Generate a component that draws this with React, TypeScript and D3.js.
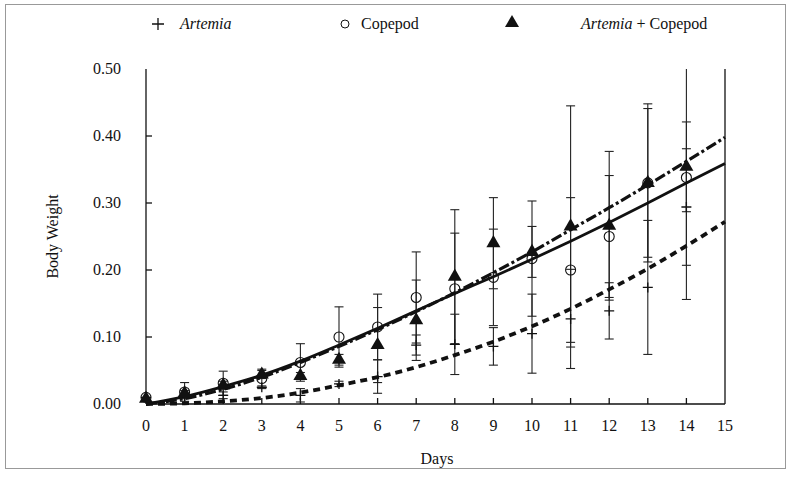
import React from 'react';
import * as d3 from 'd3';

// sampling days and the three diets (mean, sd)
const days = [0, 1, 2, 3, 4, 5, 6, 7, 8, 9, 10, 11, 12, 13, 14];

const artemiaMean = [0.010, 0.012, 0.013, 0.025, 0.013, 0.030, 0.041, 0.088, 0.089, 0.086, 0.105, 0.127, 0.139, 0.174, 0.294];
const artemiaSd = [0, 0.004, 0.005, 0.002, 0.010, 0.004, 0.025, 0.015, 0.045, 0.028, 0.059, 0.074, 0.042, 0.100, 0.087];

const copepodMean = [0.010, 0.018, 0.031, 0.038, 0.062, 0.100, 0.115, 0.159, 0.172, 0.189, 0.217, 0.200, 0.250, 0.330, 0.338];
const copepodSd = [0, 0.014, 0.018, 0.014, 0.028, 0.045, 0.049, 0.068, 0.083, 0.072, 0.086, 0.108, 0.091, 0.118, 0.182];

const mixMean = [0.008, 0.016, 0.028, 0.044, 0.042, 0.066, 0.088, 0.125, 0.190, 0.240, 0.227, 0.265, 0.266, 0.330, 0.354];
const mixSd = [0, 0.004, 0.006, 0.006, 0.005, 0.008, 0.056, 0.060, 0.100, 0.068, 0.038, 0.180, 0.111, 0.111, 0.067];

// fitted growth curves, read at each whole day 0..15
const fitDays = [0, 1, 2, 3, 4, 5, 6, 7, 8, 9, 10, 11, 12, 13, 14, 15];
const artemiaFit = [0, 0.001, 0.004, 0.009, 0.017, 0.028, 0.040, 0.055, 0.073, 0.093, 0.116, 0.142, 0.171, 0.202, 0.236, 0.272];
const copepodFit = [0, 0.011, 0.026, 0.043, 0.064, 0.088, 0.113, 0.139, 0.165, 0.190, 0.216, 0.243, 0.271, 0.300, 0.330, 0.359];
const mixFit = [0, 0.008, 0.022, 0.040, 0.062, 0.086, 0.111, 0.138, 0.166, 0.196, 0.227, 0.260, 0.293, 0.327, 0.362, 0.398];

const xTicks = d3.range(0, 16);
const yTicks = [0, 0.1, 0.2, 0.3, 0.4, 0.5];

const W = 789;
const H = 477;
const m = { left: 146, right: 725, top: 69, bottom: 404 };
const font = '"Liberation Serif", "DejaVu Serif", serif';

const x = d3.scaleLinear().domain([0, 15]).range([m.left, m.right]);
const y = d3.scaleLinear().domain([0, 0.5]).range([m.bottom, m.top]);

const ErrorBars = ({ mean, sd }: { mean: number[]; sd: number[] }) => (
  <g stroke="#222" strokeWidth={1.1}>
    {days.map((d, i) => {
      if (!sd[i]) return null;
      const lo = Math.max(0, mean[i] - sd[i]);
      const hiRaw = mean[i] + sd[i];
      const hi = Math.min(0.5, hiRaw);
      const cx = x(d);
      return (
        <g key={i}>
          <line x1={cx} x2={cx} y1={y(lo)} y2={y(hi)} />
          <line x1={cx - 4.5} x2={cx + 4.5} y1={y(lo)} y2={y(lo)} />
          {hiRaw <= 0.5 && <line x1={cx - 4.5} x2={cx + 4.5} y1={y(hi)} y2={y(hi)} />}
        </g>
      );
    })}
  </g>
);

const fitLine = (vals: number[]) =>
  d3.line<number>()
    .x((_, i) => x(fitDays[i]))
    .y(v => y(v))
    .curve(d3.curveMonotoneX)(vals) as string;

const tri = d3.symbol().type(d3.symbolTriangle).size(85)() as string;

const App = () => {
  return (
    <svg width={W} height={H} style={{ position: 'absolute', left: 0, top: 0, background: '#fff' }}
      fontFamily={font}>
      <rect x={5.5} y={4.5} width={780} height={464} fill="none" stroke="#999" strokeWidth={1} />

      {/* legend */}
      <g fontSize={16} fill="#111">
        <path d="M152,24H164M158,18V30" stroke="#111" strokeWidth={1.3} />
        <text x={180} y={29} fontStyle="italic">Artemia</text>
        <circle cx={345} cy={24} r={4} fill="none" stroke="#111" strokeWidth={1} />
        <text x={361} y={29}>Copepod</text>
        <path d={tri} transform="translate(512,23)" fill="#111" />
        <text x={581} y={29}>
          <tspan fontStyle="italic">Artemia</tspan> + Copepod
        </text>
      </g>

      {/* axes */}
      <g stroke="#111" strokeWidth={1.3} fill="none">
        <line x1={m.left} x2={m.left} y1={m.top} y2={m.bottom} />
        <line x1={m.left} x2={m.right} y1={m.bottom} y2={m.bottom} />
        <line x1={m.right} x2={m.right} y1={m.top} y2={m.bottom} />
        {yTicks.filter(t => t > 0 && t < 0.5).map(t => (
          <line key={t} x1={m.left} x2={m.left + 6} y1={y(t)} y2={y(t)} />
        ))}
        {xTicks.filter(t => t > 0 && t < 15).map(t => (
          <line key={t} x1={x(t)} x2={x(t)} y1={m.bottom} y2={m.bottom - 6} />
        ))}
      </g>
      <g fontSize={16} fill="#111">
        {yTicks.map(t => (
          <text key={t} x={121} y={y(t) + 5} textAnchor="end">{d3.format('.2f')(t)}</text>
        ))}
        {xTicks.map(t => (
          <text key={t} x={x(t)} y={431} textAnchor="middle">{t}</text>
        ))}
        <text x={437} y={464} textAnchor="middle">Days</text>
        <text transform={`translate(58,${(m.top + m.bottom) / 2}) rotate(-90)`} textAnchor="middle">Body Weight</text>
      </g>

      {/* error bars */}
      <ErrorBars mean={mixMean} sd={mixSd} />
      <ErrorBars mean={copepodMean} sd={copepodSd} />
      <ErrorBars mean={artemiaMean} sd={artemiaSd} />

      {/* fitted curves */}
      <path d={fitLine(artemiaFit)} fill="none" stroke="#111" strokeWidth={3.8} strokeDasharray="7,5" />
      <path d={fitLine(copepodFit)} fill="none" stroke="#111" strokeWidth={2.8} />
      <path d={fitLine(mixFit)} fill="none" stroke="#111" strokeWidth={3.2} strokeDasharray="11,3,3,3" />

      {/* markers */}
      <g stroke="#111" strokeWidth={1.3}>
        {days.map((d, i) => (
          <path key={i} d={`M${x(d) - 5},${y(artemiaMean[i])}H${x(d) + 5}M${x(d)},${y(artemiaMean[i]) - 5}V${y(artemiaMean[i]) + 5}`} />
        ))}
      </g>
      <g fill="none" stroke="#111" strokeWidth={1.1}>
        {days.map((d, i) => (
          <circle key={i} cx={x(d)} cy={y(copepodMean[i])} r={5} />
        ))}
      </g>
      <g fill="#111">
        {days.map((d, i) => (
          <path key={i} d={tri} transform={`translate(${x(d)},${y(mixMean[i])})`} />
        ))}
      </g>
    </svg>
  );
};

export default App;
